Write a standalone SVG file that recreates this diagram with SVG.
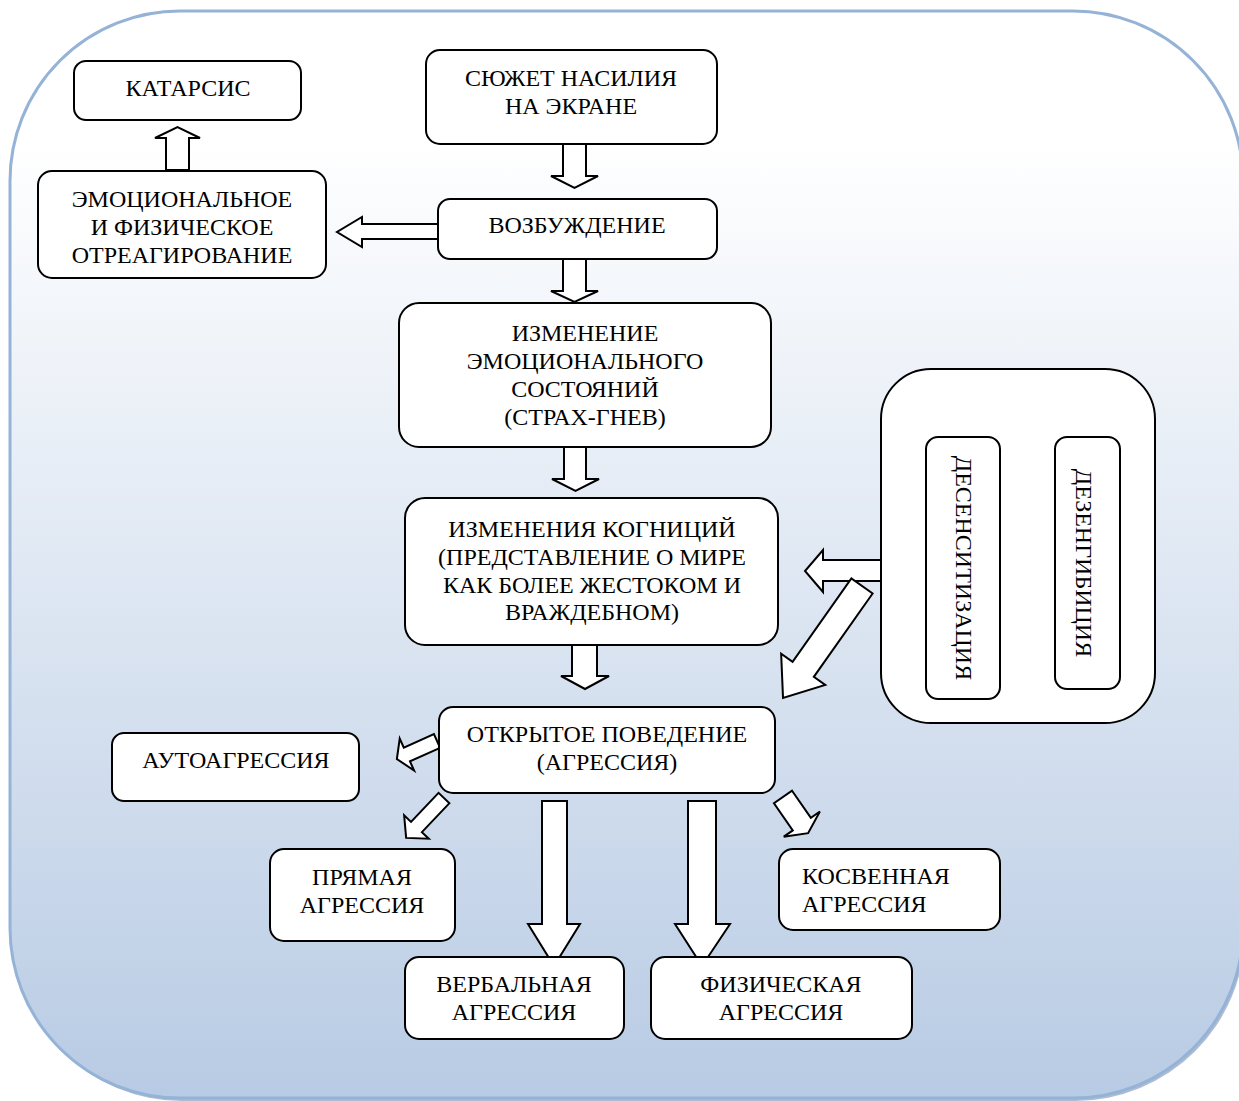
<svg xmlns="http://www.w3.org/2000/svg" width="1239" height="1101" viewBox="0 0 1239 1101">
<defs>
<linearGradient id="bg" x1="0" y1="0" x2="0" y2="1">
<stop offset="0" stop-color="#ffffff"/>
<stop offset="0.12" stop-color="#ffffff"/>
<stop offset="1" stop-color="#b8cbe4"/>
</linearGradient>
<style>
.box{fill:#ffffff;stroke:#000000;stroke-width:2}
.arr{fill:#ffffff;stroke:#000000;stroke-width:2;stroke-linejoin:miter}
text{font-family:"Liberation Serif","Times New Roman",serif;font-size:24px;fill:#000000;text-anchor:middle}
.l{text-anchor:start}
</style>
</defs>
<g id="background">
<rect x="12" y="14" width="1233" height="1087" rx="170" ry="170" fill="#8a9fbd" opacity="0.7"/>
<rect x="10" y="11" width="1233" height="1087" rx="170" ry="170" fill="url(#bg)" stroke="#95b3d7" stroke-width="3"/>
</g>
<g id="connectors">
<polygon class="arr" points="166,170 189,170 189,138 200,138 177.5,127 155,138 166,138"/>
<polygon class="arr" points="563,144 586,144 586,176 598,176 574.5,188 551,176 563,176"/>
<polygon class="arr" points="563,259 586,259 586,291 598,291 574.5,302 551,291 563,291"/>
<polygon class="arr" points="438,224 362,224 362,217 337,232 362,247 362,239 438,239"/>
<polygon class="arr" points="564,447 586,447 586,479 599,479 575.5,491 552,479 564,479"/>
<polygon class="arr" points="572,645 597,645 597,676 609,676 585,689 561,676 572,676"/>
<polygon class="arr" points="881,560 823,560 823,550 805,571 823,592 823,581 881,581"/>
<polygon class="arr" transform="translate(862,586) rotate(125.2)" points="0,-13 102,-13 102,-27 137,0 102,27 102,13 0,13"/>
<polygon class="arr" transform="translate(437,741) rotate(155.8)" points="0,-7.5 33,-7.5 33,-17.5 44,0 33,17.5 33,7.5 0,7.5"/>
<polygon class="arr" transform="translate(444,798) rotate(133.5)" points="0,-7.5 40,-7.5 40,-17 55,0 40,17 40,7.5 0,7.5"/>
<polygon class="arr" transform="translate(783,797) rotate(55.2)" points="0,-11 33,-11 33,-22 44,0 33,22 33,11 0,11"/>
<polygon class="arr" points="542,801 567,801 567,924 580,924 554,966 528,924 542,924"/>
<polygon class="arr" points="688,801 716,801 716,924 730,924 702,966 675,924 688,924"/>
</g>
<g id="n-katarsis">
<rect class="box" x="74" y="61" width="227" height="59" rx="12"/>
<text x="188" y="96">КАТАРСИС</text>
</g>
<g id="n-otreag">
<rect class="box" x="38" y="171" width="288" height="107" rx="14"/>
<text x="182" y="207">ЭМОЦИОНАЛЬНОЕ</text>
<text x="182" y="235">И ФИЗИЧЕСКОЕ</text>
<text x="182" y="263">ОТРЕАГИРОВАНИЕ</text>
</g>
<g id="n-syuzhet">
<rect class="box" x="426" y="50" width="291" height="94" rx="14"/>
<text x="571" y="86">СЮЖЕТ НАСИЛИЯ</text>
<text x="571" y="114">НА ЭКРАНЕ</text>
</g>
<g id="n-vozb">
<rect class="box" x="438" y="199" width="279" height="60" rx="12"/>
<text x="577" y="233">ВОЗБУЖДЕНИЕ</text>
</g>
<g id="n-izm">
<rect class="box" x="399" y="303" width="372" height="144" rx="20"/>
<text x="585" y="341">ИЗМЕНЕНИЕ</text>
<text x="585" y="369">ЭМОЦИОНАЛЬНОГО</text>
<text x="585" y="397">СОСТОЯНИЙ</text>
<text x="585" y="425">(СТРАХ-ГНЕВ)</text>
</g>
<g id="n-kogn">
<rect class="box" x="405" y="498" width="373" height="147" rx="20"/>
<text x="592" y="537">ИЗМЕНЕНИЯ КОГНИЦИЙ</text>
<text x="592" y="565">(ПРЕДСТАВЛЕНИЕ О МИРЕ</text>
<text x="592" y="593">КАК БОЛЕЕ ЖЕСТОКОМ И</text>
<text x="592" y="620">ВРАЖДЕБНОМ)</text>
</g>
<g id="n-group">
<rect class="box" x="881" y="369" width="274" height="354" rx="50"/>
</g>
<g id="n-desens">
<rect class="box" x="926" y="437" width="74" height="262" rx="12"/>
<text transform="translate(964,568) rotate(90)" dominant-baseline="central">ДЕСЕНСИТИЗАЦИЯ</text>
</g>
<g id="n-dezing">
<rect class="box" x="1055" y="437" width="65" height="252" rx="12"/>
<text transform="translate(1084,563) rotate(90)" dominant-baseline="central">ДЕЗЕНГИБИЦИЯ</text>
</g>
<g id="n-otkr">
<rect class="box" x="439" y="707" width="336" height="86" rx="14"/>
<text x="607" y="742">ОТКРЫТОЕ ПОВЕДЕНИЕ</text>
<text x="607" y="770">(АГРЕССИЯ)</text>
</g>
<g id="n-auto">
<rect class="box" x="112" y="733" width="247" height="68" rx="12"/>
<text x="236" y="768">АУТОАГРЕССИЯ</text>
</g>
<g id="n-pryam">
<rect class="box" x="270" y="849" width="185" height="92" rx="14"/>
<text x="362" y="885">ПРЯМАЯ</text>
<text x="362" y="913">АГРЕССИЯ</text>
</g>
<g id="n-kosv">
<rect class="box" x="779" y="849" width="221" height="81" rx="14"/>
<text class="l" x="802" y="884">КОСВЕННАЯ</text>
<text class="l" x="802" y="912">АГРЕССИЯ</text>
</g>
<g id="n-verb">
<rect class="box" x="405" y="957" width="219" height="82" rx="14"/>
<text x="514" y="992">ВЕРБАЛЬНАЯ</text>
<text x="514" y="1020">АГРЕССИЯ</text>
</g>
<g id="n-fiz">
<rect class="box" x="651" y="957" width="261" height="82" rx="14"/>
<text x="781" y="992">ФИЗИЧЕСКАЯ</text>
<text x="781" y="1020">АГРЕССИЯ</text>
</g>
</svg>
